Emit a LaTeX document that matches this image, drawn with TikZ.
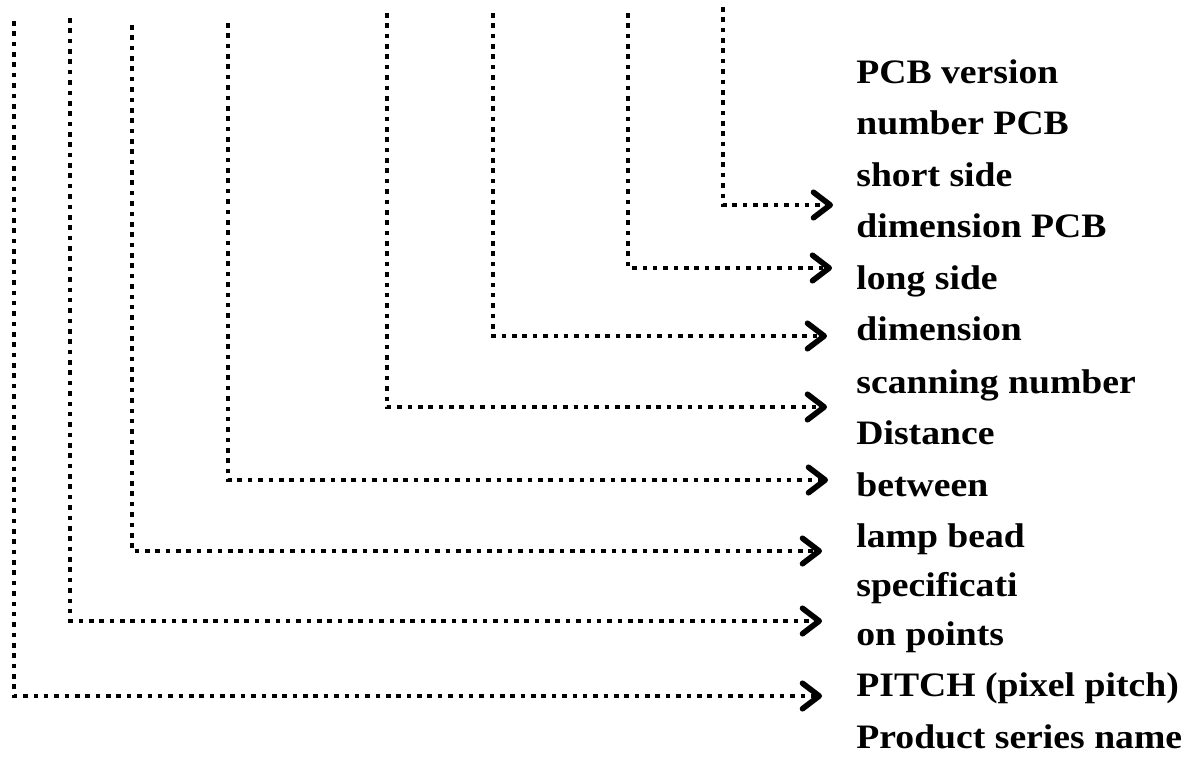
\documentclass[tikz,border=0pt]{standalone}
\usepackage{fontspec}
\setmainfont{Liberation Serif}
\usepackage{graphicx}
\usetikzlibrary{arrows.meta}

\newcommand{\wide}[1]{\scalebox{1.1}[1]{#1}}

\tikzset{
	lbl/.style={anchor=base west, inner sep=0pt, font=\bfseries\fontsize{19.5}{22}\selectfont},
	dotline/.style={line width=2.7pt, dash pattern=on 2.6pt off 3.3pt,
		-{Straight Barb[length=9.5pt, width=14.5pt, line width=3.2pt, round]}}
}

\begin{document}
\begin{tikzpicture}[x=0.02cm, y=-0.02cm]
	\useasboundingbox (0,0) rectangle (1184,758);
				\node[lbl]	(a) at (856,83){\wide{PCB version}};
				\node[lbl]	(b) at (856,134){\wide{number PCB}};
				\node[lbl]	(c) at (856,186){\wide{short side}};
				\node[lbl]	(d) at (856,237){\wide{dimension PCB}};
				\node[lbl]	(e) at (856,289){\wide{long side}};
				\node[lbl]	(f) at (856,340){\wide{dimension}};
				\node[lbl]	(g) at (856,393){\wide{scanning number}};
				\node[lbl]	(h) at (856,444){\wide{Distance}};
				\node[lbl]	(i) at (856,496){\wide{between}};
				\node[lbl]	(j) at (856,547){\wide{lamp bead}};
				\node[lbl]	(k) at (856,596){\wide{specificati}};
				\node[lbl]	(l) at (856,645){\wide{on points}};
				\node[lbl]	(m) at (856,696){\wide{PITCH (pixel pitch)}};
				\node[lbl]	(n) at (856,748){\wide{Product series name}};
			
			\coordinate	(s1) at (14,21);
			\coordinate	(s2) at (70,18);
			\coordinate	(s3) at (132,25);
			\coordinate	(s4) at (228,23);
			\coordinate	(s5) at (387,13);
			\coordinate	(s6) at (493,13);
			\coordinate	(s7) at (628,13);
			\coordinate	(s8) at (723,7);
			\coordinate	(e1) at (822,696);
			\coordinate	(e2) at (822,621);
			\coordinate	(e3) at (822,551);
			\coordinate	(e4) at (828,480);
			\coordinate	(e5) at (827,407);
			\coordinate	(e6) at (827,336);
			\coordinate	(e7) at (832,268);
			\coordinate	(e8) at (833,205);
			
			\draw[dotline] (s1) |- (e1);
			\draw[dotline] (s2) |- (e2);
			\draw[dotline] (s3) |- (e3);
			\draw[dotline] (s4) |- (e4);
			\draw[dotline] (s5) |- (e5);
			\draw[dotline] (s6) |- (e6);
			\draw[dotline] (s7) |- (e7);
			\draw[dotline] (s8) |- (e8);
\end{tikzpicture}
\end{document}
